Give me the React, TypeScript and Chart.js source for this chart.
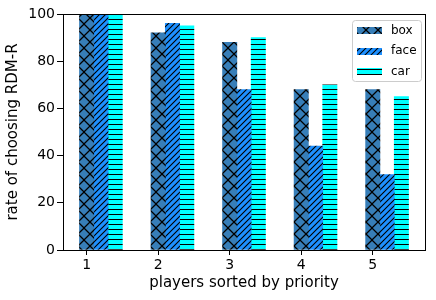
import React, { useEffect, useRef } from 'react';
import { Chart, registerables } from 'chart.js';

Chart.register(...registerables);

const players = [1, 2, 3, 4, 5];
const seriesNames = ['box', 'face', 'car'];
const boxRates = [100, 92, 88, 68, 68];
const faceRates = [100, 96, 68, 44, 32];
const carRates = [100, 95, 90, 70, 65];
const yTicks = [0, 20, 40, 60, 80, 100];

const FONT = "'DejaVu Sans', sans-serif";
const BAR_STEP = 0.2;

type DrawFn = (ctx: CanvasRenderingContext2D, size: number) => void;

function makePattern(bg: string, size: number, lw: number, draw: DrawFn): CanvasPattern | string {
  const c = document.createElement('canvas');
  c.width = size;
  c.height = size;
  const ctx = c.getContext('2d');
  if (!ctx) return bg;
  ctx.fillStyle = bg;
  ctx.fillRect(0, 0, size, size);
  ctx.strokeStyle = '#000';
  ctx.lineWidth = lw;
  draw(ctx, size);
  const p = ctx.createPattern(c, 'repeat');
  return p || bg;
}

// 45-degree lines, n per tile; dir 1 = "/", dir -1 = "\"
function diagLines(ctx: CanvasRenderingContext2D, T: number, n: number, dir: 1 | -1) {
  const step = T / n;
  ctx.beginPath();
  for (let k = -2 * n; k <= 3 * n; k++) {
    const c = k * step;
    if (dir === 1) {
      ctx.moveTo(c + T, -T);
      ctx.lineTo(c - 2 * T, 2 * T);
    } else {
      ctx.moveTo(c - T, -T);
      ctx.lineTo(c + 2 * T, 2 * T);
    }
  }
  ctx.stroke();
}

const legendPlugin = {
  id: 'boxLegend',
  afterDraw(chart: any) {
    const ctx: CanvasRenderingContext2D = chart.ctx;
    const x = 352.5, y = 20.5, w = 69, h = 61, r = 3;
    ctx.save();
    ctx.beginPath();
    ctx.moveTo(x + r, y);
    ctx.lineTo(x + w - r, y);
    ctx.arcTo(x + w, y, x + w, y + r, r);
    ctx.lineTo(x + w, y + h - r);
    ctx.arcTo(x + w, y + h, x + w - r, y + h, r);
    ctx.lineTo(x + r, y + h);
    ctx.arcTo(x, y + h, x, y + h - r, r);
    ctx.lineTo(x, y + r);
    ctx.arcTo(x, y, x + r, y, r);
    ctx.closePath();
    ctx.fillStyle = 'rgba(255,255,255,0.8)';
    ctx.fill();
    ctx.strokeStyle = '#cccccc';
    ctx.lineWidth = 1;
    ctx.stroke();
    chart.data.datasets.forEach((ds: any, i: number) => {
      const cy = 30.5 + i * 20.5;
      ctx.fillStyle = ds.backgroundColor;
      ctx.fillRect(357, Math.round(cy - 3.5), 25, 7);
      ctx.fillStyle = '#000';
      ctx.font = `12px ${FONT}`;
      ctx.textAlign = 'left';
      ctx.textBaseline = 'middle';
      ctx.fillText(ds.label, 391, cy);
    });
    ctx.restore();
  },
};

const framePlugin = {
  id: 'frame',
  afterDatasetsDraw(chart: any) {
    const { ctx, chartArea } = chart;
    ctx.save();
    ctx.strokeStyle = '#000';
    ctx.lineWidth = 1;
    ctx.strokeRect(chartArea.left + 0.5, chartArea.top + 0.5, chartArea.right - chartArea.left, chartArea.bottom - chartArea.top);
    ctx.restore();
  },
};

export default function App() {
  const ref = useRef<HTMLCanvasElement | null>(null);

  useEffect(() => {
    document.body.style.margin = '0';
    const canvas = ref.current;
    if (!canvas) return;

    const boxPat = makePattern('#377eb8', 12, 1.25, (ctx, T) => {
      diagLines(ctx, T, 1, 1);
      diagLines(ctx, T, 1, -1);
    });
    const facePat = makePattern('#1e90ff', 12, 1.1, (ctx, T) => {
      diagLines(ctx, T, 2, 1);
    });
    const carPat = makePattern('#00ffff', 5, 1, (ctx, T) => {
      ctx.fillStyle = '#000';
      ctx.fillRect(0, T - 1, T, 1);
    });

    const fills = [boxPat, facePat, carPat];
    const series = [boxRates, faceRates, carRates];

    const xMin = players[0] - BAR_STEP / 2;
    const xMax = players[players.length - 1] + BAR_STEP * (series.length - 1) + BAR_STEP / 2;
    const margin = (xMax - xMin) * 0.05;

    const chart = new Chart(canvas, {
      type: 'bar',
      data: {
        datasets: series.map((vals, i) => ({
          label: seriesNames[i],
          data: players.map((p, j) => ({ x: p + i * BAR_STEP, y: vals[j] })),
          backgroundColor: fills[i] as any,
          borderWidth: 0,
          grouped: false,
          barPercentage: 1,
          categoryPercentage: 1,
        })),
      },
      options: {
        animation: false,
        responsive: false,
        maintainAspectRatio: false,
        layout: { padding: { top: 14, right: 11, left: 0, bottom: 0 } },
        plugins: {
          legend: { display: false },
          tooltip: { enabled: false },
        },
        scales: {
          x: {
            type: 'linear',
            offset: false,
            min: xMin - margin,
            max: xMax + margin,
            afterBuildTicks: (scale: any) => {
              scale.ticks = players.map((v) => ({ value: v }));
            },
            afterFit: (scale: any) => {
              scale.height = 50;
            },
            grid: { display: true, offset: false, drawOnChartArea: false, drawTicks: true, tickLength: 5, color: '#000' },
            border: { display: false },
            ticks: {
              color: '#000',
              font: { family: FONT, size: 14 },
              padding: 2,
              maxRotation: 0,
              callback: (v: any) => String(v),
            },
            title: {
              display: true,
              text: 'players sorted by priority',
              color: '#000',
              font: { family: FONT, size: 15 },
              padding: { top: 0, bottom: 8 },
            },
          },
          y: {
            type: 'linear',
            min: yTicks[0],
            max: yTicks[yTicks.length - 1],
            afterBuildTicks: (scale: any) => {
              scale.ticks = yTicks.map((v) => ({ value: v }));
            },
            afterFit: (scale: any) => {
              scale.width = 63;
            },
            grid: { display: true, drawOnChartArea: false, drawTicks: true, tickLength: 6, color: '#000' },
            border: { display: false },
            ticks: {
              color: '#000',
              font: { family: FONT, size: 14 },
              padding: 2,
            },
            title: {
              display: true,
              text: 'rate of choosing RDM-R',
              color: '#000',
              font: { family: FONT, size: 15 },
              padding: { top: 4, bottom: 0 },
            },
          },
        },
      },
      plugins: [framePlugin, legendPlugin],
    });

    return () => chart.destroy();
  }, []);

  return (
    <div style={{ width: 436, height: 300 }}>
      <canvas ref={ref} width={436} height={300} />
    </div>
  );
}
